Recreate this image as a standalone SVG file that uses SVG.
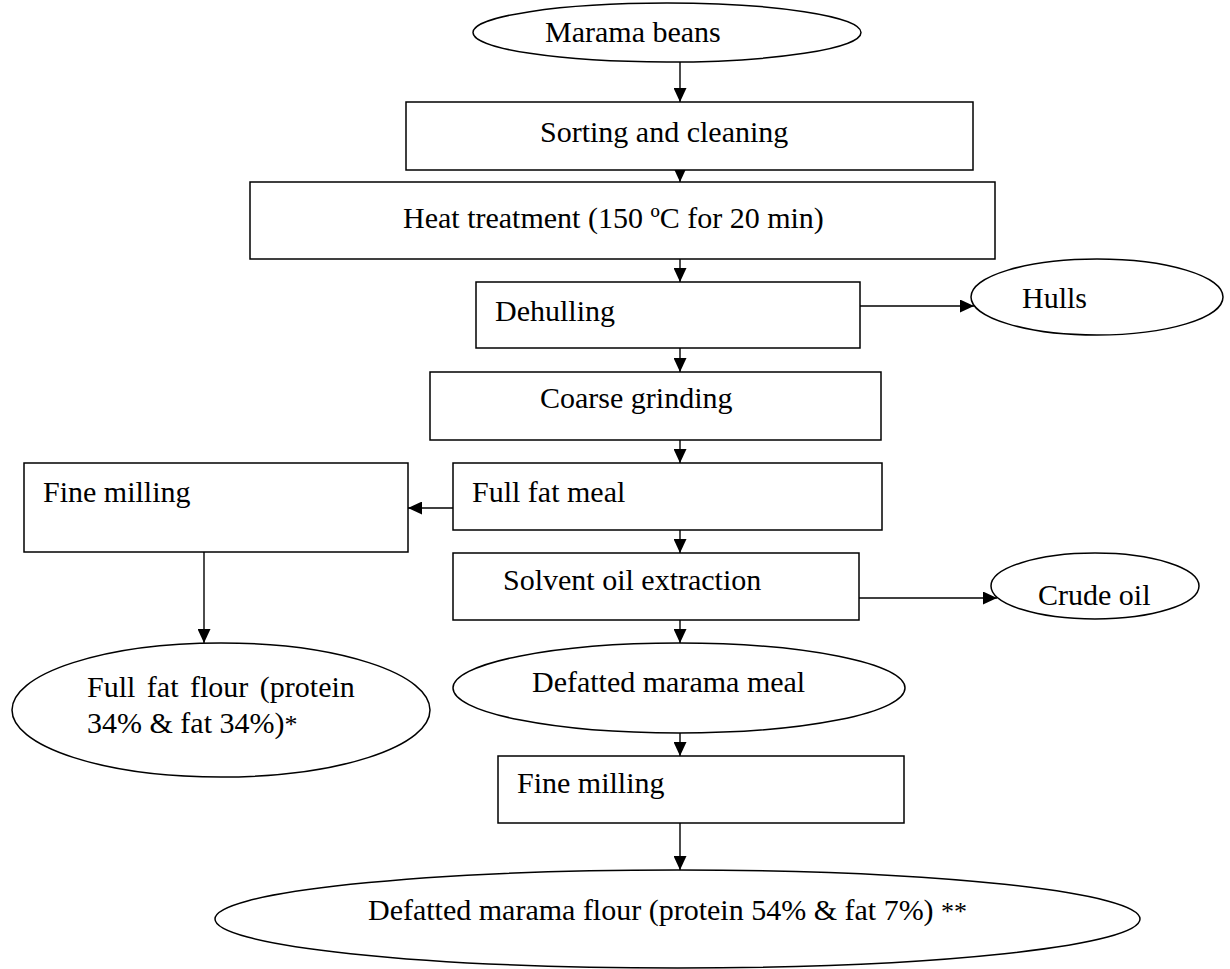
<svg xmlns="http://www.w3.org/2000/svg" width="1230" height="969" viewBox="0 0 1230 969">
<style>
.box{fill:#fff;stroke:#000;stroke-width:1.5}
.ell{fill:#fff;stroke:#000;stroke-width:1.5}
.lbl{font-family:"Liberation Serif","Times New Roman",serif;font-size:30px;fill:#000}
.ast{font-size:26px}
#connectors line{stroke:#000;stroke-width:1.4;marker-end:url(#ah)}
</style>
<defs>
<marker id="ah" markerUnits="userSpaceOnUse" markerWidth="14" markerHeight="13" refX="14" refY="6.5" orient="auto">
<path d="M0,0 L14,6.5 L0,13 z" fill="#000"/>
</marker>
</defs>
<rect width="1230" height="969" fill="#fff"/>
<g id="connectors">
<line x1="680" y1="62" x2="680" y2="102"/>
<line x1="680" y1="170" x2="680" y2="182"/>
<line x1="680" y1="259" x2="680" y2="282"/>
<line x1="860" y1="306" x2="974" y2="306"/>
<line x1="680" y1="348" x2="680" y2="372"/>
<line x1="680" y1="440" x2="680" y2="463"/>
<line x1="453" y1="508" x2="408" y2="508"/>
<line x1="204" y1="552" x2="204" y2="643"/>
<line x1="680" y1="530" x2="680" y2="553"/>
<line x1="859" y1="598" x2="997" y2="598"/>
<line x1="680" y1="620" x2="680" y2="643"/>
<line x1="680" y1="733" x2="680" y2="756"/>
<line x1="680" y1="823" x2="680" y2="870"/>
</g>
<g id="marama-beans"><ellipse class="ell" cx="667" cy="32.5" rx="194" ry="29.5"/><text class="lbl" x="545" y="42">Marama beans</text></g>
<g id="sorting"><rect class="box" x="406" y="102" width="567" height="68"/><text class="lbl" x="540" y="142">Sorting and cleaning</text></g>
<g id="heat"><rect class="box" x="250" y="182" width="745" height="77"/><text class="lbl" x="403" y="228">Heat treatment (150 ºC for 20 min)</text></g>
<g id="dehulling"><rect class="box" x="476" y="282" width="384" height="66"/><text class="lbl" x="495" y="321">Dehulling</text></g>
<g id="hulls"><ellipse class="ell" cx="1097" cy="297" rx="126" ry="38"/><text class="lbl" x="1022" y="308">Hulls</text></g>
<g id="coarse"><rect class="box" x="430" y="372" width="451" height="68"/><text class="lbl" x="540" y="408">Coarse grinding</text></g>
<g id="full-fat-meal"><rect class="box" x="453" y="463" width="429" height="67"/><text class="lbl" x="472" y="502">Full fat meal</text></g>
<g id="fine-milling-1"><rect class="box" x="24" y="463" width="384" height="89"/><text class="lbl" x="43" y="502">Fine milling</text></g>
<g id="full-fat-flour"><ellipse class="ell" cx="221" cy="710" rx="209" ry="67"/><text class="lbl" x="87" y="697" word-spacing="4">Full fat flour (protein</text><text class="lbl" x="87" y="733">34% &amp; fat 34%)<tspan class="ast">*</tspan></text></g>
<g id="solvent"><rect class="box" x="453" y="553" width="406" height="67"/><text class="lbl" x="503" y="590">Solvent oil extraction</text></g>
<g id="crude-oil"><ellipse class="ell" cx="1095" cy="586" rx="104" ry="33"/><text class="lbl" x="1038" y="605">Crude oil</text></g>
<g id="defatted-meal"><ellipse class="ell" cx="679" cy="688" rx="226" ry="45"/><text class="lbl" x="532" y="692">Defatted marama meal</text></g>
<g id="fine-milling-2"><rect class="box" x="498" y="756" width="406" height="67"/><text class="lbl" x="517" y="793">Fine milling</text></g>
<g id="defatted-flour"><ellipse class="ell" cx="677.5" cy="919" rx="462.5" ry="49"/><text class="lbl" x="368" y="920">Defatted marama flour (protein 54% &amp; fat 7%) <tspan class="ast">**</tspan></text></g>
</svg>
